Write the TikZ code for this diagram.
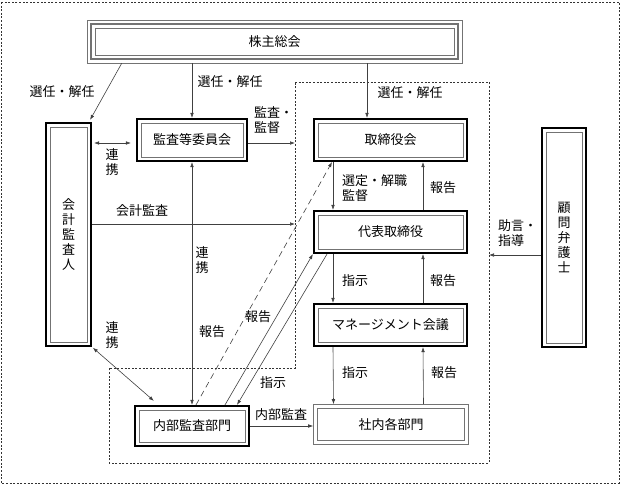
\documentclass[tikz,border=0pt]{standalone}
\usepackage{fontspec}
\setmainfont{Noto Sans CJK JP}
\usepackage{tikz}
\usetikzlibrary{arrows.meta,calc,positioning}
\tikzset{
  inline/.style={draw=black!55,line width=0.6pt},
  box/.style={draw=black,line width=2.2pt,inner sep=0pt,align=center,
    path picture={\draw[inline]
      ([shift={(4.2pt,4.2pt)}]path picture bounding box.south west) rectangle
      ([shift={(-4.2pt,-4.2pt)}]path picture bounding box.north east);}},
  twinbox/.style={draw=black!55,line width=0.6pt,inner sep=0pt,align=center,
    path picture={\draw[inline]
      ([shift={(3.8pt,3.8pt)}]path picture bounding box.south west) rectangle
      ([shift={(-3.8pt,-3.8pt)}]path picture bounding box.north east);}},
  topbox/.style={draw=black!55,line width=0.6pt,inner sep=0pt,align=center,
    path picture={
      \draw[line width=2.4pt]
        ([shift={(3.8pt,3.8pt)}]path picture bounding box.south west) rectangle
        ([shift={(-3.8pt,-3.8pt)}]path picture bounding box.north east);
      \draw[inline]
        ([shift={(7.8pt,7.8pt)}]path picture bounding box.south west) rectangle
        ([shift={(-7.8pt,-7.8pt)}]path picture bounding box.north east);}},
  arr/.style={-{Latex[length=5pt,width=3.6pt]},draw=black!75,line width=0.6pt},
  arrtwo/.style={{Latex[length=5pt,width=3.6pt]}-{Latex[length=5pt,width=3.6pt]},
    draw=black!75,line width=0.6pt},
  region/.style={draw=black!80,line width=0.5pt,dash pattern=on 2pt off 1.6pt},
  lbl/.style={inner sep=1pt,align=left},
  every node/.style={font=\fontsize{13}{15}\selectfont}
}

\begin{document}
\begin{tikzpicture}[x=1pt,y=-1pt]
  \useasboundingbox (0,0) rectangle (621,485);
  \draw[region] (1,2) rectangle (619,483);

  % organs
  \node[topbox,minimum width=375pt,minimum height=43pt] (kabu) at (274.5,41.5) {株主総会};
  \node[box,minimum width=45pt,minimum height=223pt] (kaikei) at (68.5,234.5) {会\\計\\監\\査\\人};
  \node[box,minimum width=110pt,minimum height=42pt] (kansa) at (192,140) {監査等委員会};
  \node[box,minimum width=153pt,minimum height=42pt] (tori) at (390.5,140) {取締役会};
  \node[box,minimum width=153pt,minimum height=42pt] (daihyo) at (390.5,232) {代表取締役};
  \node[box,minimum width=153pt,minimum height=42pt] (mane) at (390.5,325) {マネージメント会議};
  \node[box,minimum width=114pt,minimum height=40pt] (naibu) at (192,426) {内部監査部門};
  \node[twinbox,minimum width=155pt,minimum height=40pt] (shanai) at (391,424.5) {社内各部門};
  \node[box,minimum width=44pt,minimum height=219pt] (komon) at (564,237.5) {顧\\問\\弁\\護\\士};

  % executive area
  \coordinate (rgn-nw) at (295,82);
  \coordinate (rgn-ne) at (489,82);
  \coordinate (rgn-se) at (489,463);
  \coordinate (rgn-sw) at (109,463);
  \coordinate (rgn-in) at (295,368);
  \draw[region] (rgn-nw) -- (rgn-ne) -- (rgn-se) -- (rgn-sw) -- (rgn-sw |- rgn-in)
    -- (rgn-in) -- cycle;

  % appointment
  \draw[arr] ([xshift=35pt]kabu.south west) -- ([shift={(-2pt,2pt)}]kaikei.north east);
  \draw[arr] (kabu.south -| kansa.north) -- (kansa.north);
  \coordinate (tori-in) at ([xshift=-23.5pt]tori.north);
  \draw[arr] (kabu.south -| tori-in) -- (tori-in);

  % audit side
  \coordinate (kansa-l) at ([yshift=-3pt]kansa.west);
  \draw[arrtwo,shorten <=2pt,shorten >=5pt] (kaikei.east |- kansa-l) -- (kansa-l);
  \coordinate (kansa-r) at ([yshift=-3pt]kansa.east);
  \draw[arr] (kansa-r) -- (kansa-r -| rgn-nw);
  \coordinate (kaikei-r) at ([yshift=10.5pt]kaikei.east);
  \draw[arr] (kaikei-r) -- (kaikei-r -| rgn-nw);
  \draw[arrtwo] (kansa.south) -- (naibu.north);
  \draw[arrtwo,shorten <=1pt] (kaikei.south east) -- ([shift={(20pt,4pt)}]naibu.north west);

  % executive lines
  \draw[arr] ([xshift=-57.5pt]tori.south) -- ([xshift=-57.5pt]daihyo.north);
  \draw[arr] ([xshift=32.5pt]daihyo.north) -- ([xshift=32.5pt]tori.south);
  \draw[arr] ([xshift=-57.5pt]daihyo.south) -- ([xshift=-57.5pt]mane.north);
  \draw[arr] ([xshift=32.5pt]mane.north) -- ([xshift=32.5pt]daihyo.south);
  \draw[arr] ([xshift=-57.5pt]mane.south) -- ([xshift=-57.5pt]shanai.north);
  \draw[arr] ([xshift=32.5pt]shanai.north) -- ([xshift=32.5pt]mane.south);
  \draw[arr] (naibu.east) -- (naibu.east -| shanai.west);
  \coordinate (komon-l) at ([yshift=-17.5pt]komon.west);
  \draw[arr] (komon-l) -- (komon-l -| rgn-ne);

  % internal audit reporting
  \draw[arr,dash pattern=on 6pt off 4pt] ([xshift=4pt]naibu.north) -- ([xshift=-58.5pt]tori.south);
  \draw[arr] ([xshift=33pt]naibu.north) -- (daihyo.south west);
  \draw[arr] ([xshift=-63.5pt]daihyo.south) -- ([xshift=45pt]naibu.north);

  % labels
  \node[lbl] (l-sen1) at (62,92) {選任・解任};
  \node[lbl] (l-sen2) at (230,82) {選任・解任};
  \node[lbl] (l-sen3) at (410,93) {選任・解任};
  \node[lbl,anchor=west] (l-kansa) at (253,120) {監査・\\監督};
  \node[lbl] (l-ren1) at (112,162) {連\\携};
  \node[lbl] (l-kaikei) at (142,211) {会計監査};
  \node[lbl] (l-ren2) at (202,260) {連\\携};
  \node[lbl] (l-ren3) at (112,335) {連\\携};
  \node[lbl] (l-hou1) at (212,332) {報告};
  \node[lbl] (l-hou2) at (258,317) {報告};
  \node[lbl] (l-shi1) at (273,383) {指示};
  \node[lbl,anchor=west] (l-sentei) at (341,188) {選定・解職\\監督};
  \node[lbl] (l-hou3) at (443,188) {報告};
  \node[lbl] (l-shi2) at (355,281) {指示};
  \node[lbl] (l-hou4) at (443,281) {報告};
  \node[lbl] (l-shi3) at (355,373) {指示};
  \node[lbl] (l-hou5) at (444,373) {報告};
  \node[lbl] (l-naibu) at (281,415) {内部監査};
  \node[lbl,anchor=west] (l-jogen) at (497,233) {助言・\\指導};
\end{tikzpicture}
\end{document}
